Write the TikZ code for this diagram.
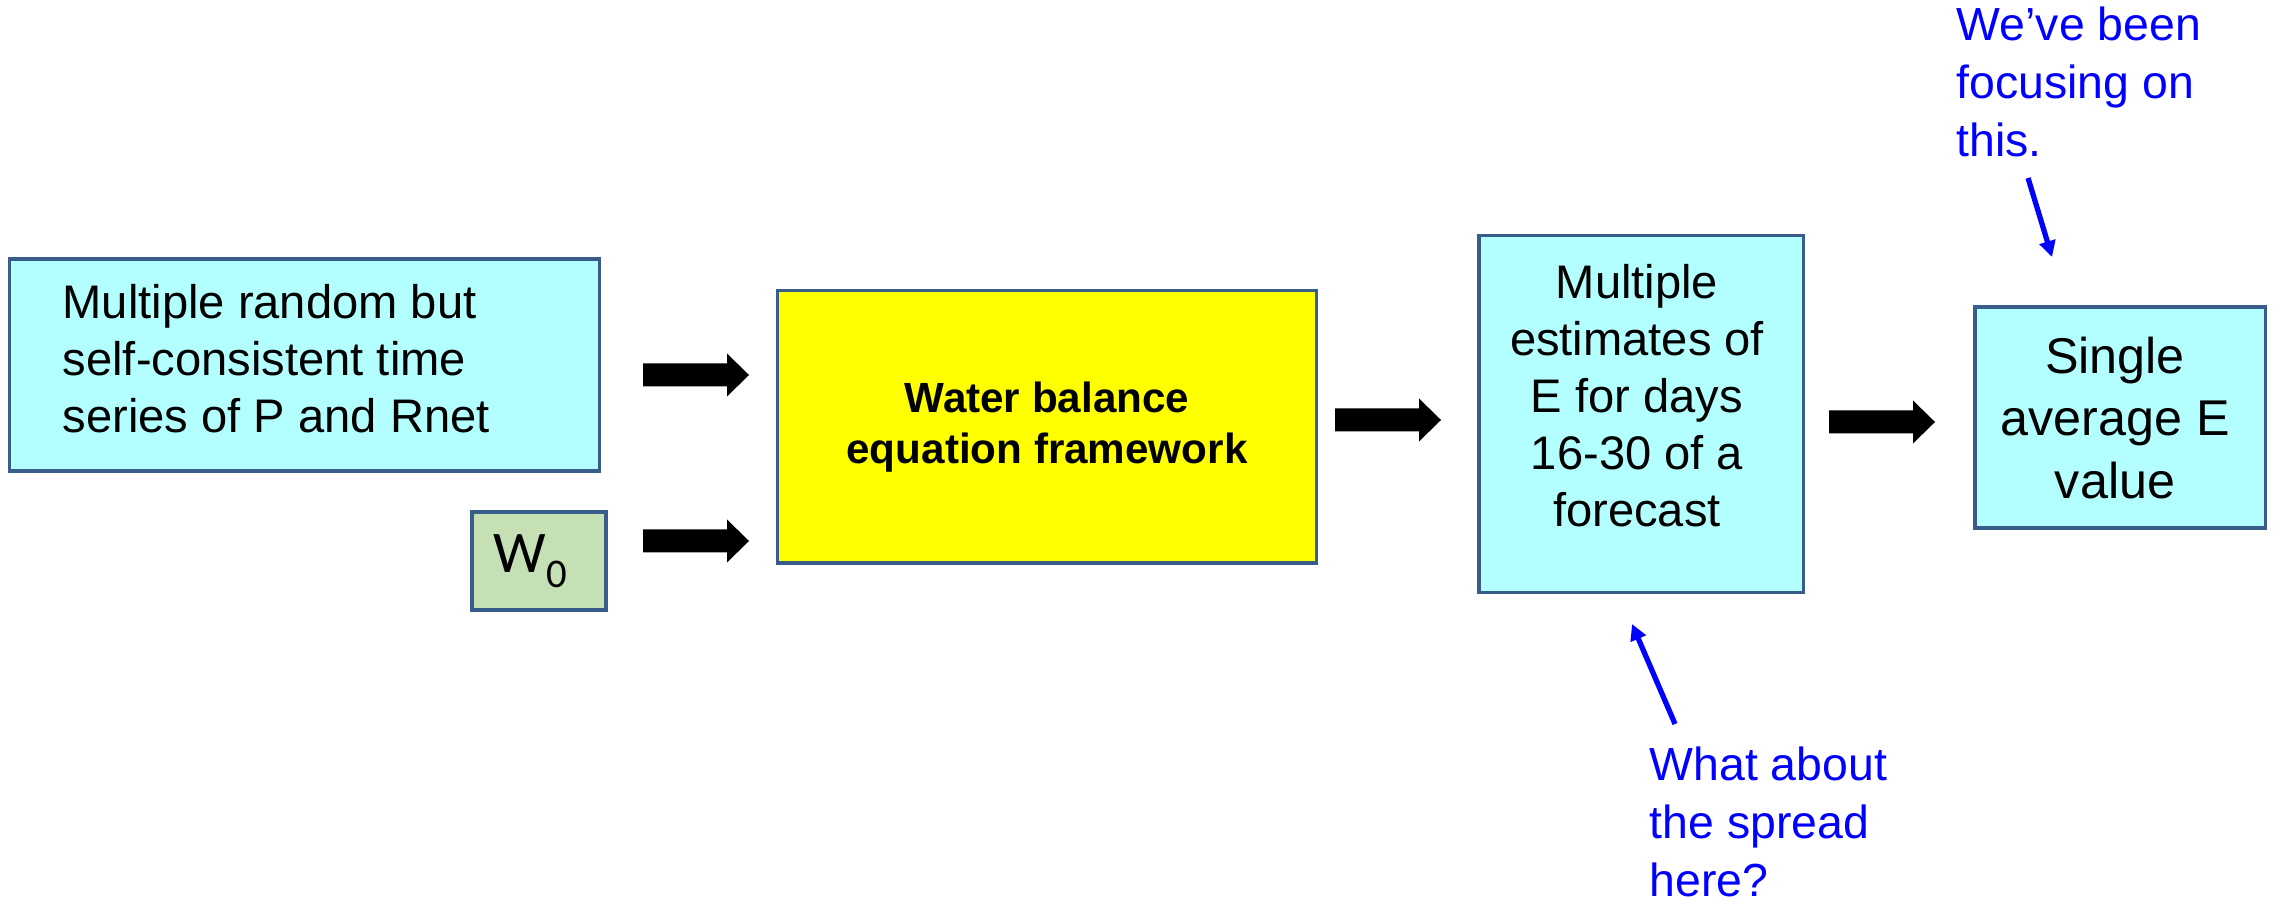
\documentclass[tikz,border=0pt]{standalone}
\usepackage{fontspec}
\setmainfont{Liberation Sans}
\newfontfamily\calibfont{Carlito}
\usetikzlibrary{arrows.meta}
\definecolor{cyanfill}{RGB}{179,255,255}
\definecolor{edgeblue}{RGB}{56,93,138}
\definecolor{wgreen}{RGB}{197,224,180}
\definecolor{brightyellow}{RGB}{255,255,0}
\newcommand{\blockarrow}[2]{\fill[black] (#1,#2) ++(0,-11.5) -- ++(84,0) -- ++(0,-10) -- ++(22,21.5) -- ++(-22,21.5) -- ++(0,-10) -- ++(-84,0) -- cycle;}
\begin{document}
\begin{tikzpicture}[x=0.01cm,y=-0.01cm,
  box/.style={draw=edgeblue,line width=0.9pt,inner sep=0pt},
  txt/.style={inner sep=0pt,font=\fontsize{13.4pt}{16.2pt}\selectfont},
  note/.style={inner sep=0pt,text=blue,align=left,font=\fontsize{13.2pt}{16.4pt}\selectfont},
  pointer/.style={draw=blue,line width=1.5pt,-{Triangle[length=0.16cm,width=0.16cm]}}]
\useasboundingbox[fill=white] (0,0) rectangle (2280,901);

% boxes
\node[box,fill=cyanfill,minimum width=5.89cm,minimum height=2.12cm] (series) at (304.5,365) {};
\node[box,fill=wgreen,minimum width=1.34cm,minimum height=0.98cm] (w0) at (539,561) {};
\node[box,fill=brightyellow,minimum width=5.38cm,minimum height=2.72cm] (wbe) at (1047,427) {};
\node[box,fill=cyanfill,minimum width=3.24cm,minimum height=3.56cm] (multi) at (1641,414) {};
\node[box,fill=cyanfill,minimum width=2.90cm,minimum height=2.21cm] (single) at (2120,417.5) {};

% texts
\node[txt,align=left,anchor=west] (seriestext) at (62,359) {Multiple random but\\self-consistent time\\series of P and Rnet};
\node[inner sep=0pt,anchor=base west,font=\calibfont\fontsize{16.8pt}{20pt}\selectfont] (w0text) at (493,573) {W\raisebox{-0.14cm}{\fontsize{11.6pt}{14pt}\selectfont 0}};
\node[inner sep=0pt,align=center,font=\bfseries\fontsize{12pt}{14.5pt}\selectfont] (wbetext) at (1047,427) {Water balance\\equation framework};
\node[txt,align=center] (multitext) at (1637,396) {Multiple\\estimates of\\E for days\\16-30 of a\\forecast};
\node[inner sep=0pt,align=center,font=\fontsize{14.3pt}{17.8pt}\selectfont] (singletext) at (2115,418) {Single\\average E\\value};
\node[note,anchor=west] (focus) at (1956,82) {We’ve been\\focusing on\\this.};
\node[note,anchor=west] (spread) at (1649,822) {What about\\the spread\\here?};

% block arrows
\blockarrow{643}{375}
\blockarrow{643}{541}
\blockarrow{1335}{420}
\blockarrow{1829}{422}

% pointers
\coordinate (focustail) at (2028,178);
\coordinate (focustip) at (2052,257);
\coordinate (spreadtail) at (1675,724);
\coordinate (spreadtip) at (1632,624);
\draw[pointer] (focustail) -- (focustip);
\draw[pointer] (spreadtail) -- (spreadtip);
\end{tikzpicture}
\end{document}
